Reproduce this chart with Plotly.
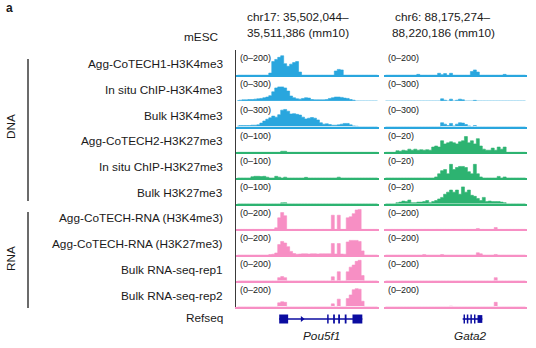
import plotly.graph_objects as go

W, H = 536, 348

BLUE = '#29a6de'
GREEN = '#2db371'
PINK = '#f78fc4'
NAVY = '#0b0ca0'
TXT = '#1a1a1a'
FONT = 'Liberation Sans, Arial, Helvetica, sans-serif'

track_labels = [
    "Agg-CoTECH1-H3K4me3", "In situ ChIP-H3K4me3", "Bulk H3K4me3",
    "Agg-CoTECH2-H3K27me3", "In situ ChIP-H3K27me3", "Bulk H3K27me3",
    "Agg-CoTECH-RNA (H3K4me3)", "Agg-CoTECH-RNA (H3K27me3)",
    "Bulk RNA-seq-rep1", "Bulk RNA-seq-rep2",
]
track_colors = [BLUE] * 3 + [GREEN] * 3 + [PINK] * 4
left_max = [200, 300, 300, 100, 100, 100, 200, 200, 200, 200]
right_max = [200, 300, 300, 20, 20, 20, 200, 200, 200, 200]

bins = list(range(48))

# ---- Pou5f1 locus (chr17) signal, 48 bins ----
L1 = [0, 0, 0, 0, 0, 0, 0, 0,  0, 0, 0, 20, 130, 150, 170, 185,
      110, 85, 105, 120, 130, 30, 0, 0,  0, 0, 0, 0, 0, 0, 0, 0,
      0, 40, 55, 50, 0, 0, 0, 0,  0, 0, 0, 0, 0, 0, 0, 0]
L2 = [5, 10, 15, 15, 20, 20, 25, 30,  35, 45, 55, 75, 130, 185, 200, 200,
      185, 140, 70, 45, 30, 25, 35, 45,  40, 20, 15, 15, 15, 15, 20, 35,
      45, 55, 55, 50, 40, 35, 20, 10,  0, 0, 0, 0, 0, 0, 0, 0]
L3 = [10, 15, 15, 15, 15, 20, 20, 25,  50, 80, 105, 125, 150, 135, 170, 235,
      245, 220, 180, 185, 175, 165, 135, 110,  120, 130, 120, 95, 55, 35, 40, 30,
      20, 20, 25, 35, 45, 45, 25, 10,  5, 0, 0, 0, 0, 0, 0, 0]
L4 = [0, 0, 0, 0, 0, 0, 0, 0,  0, 0, 0, 0, 0, 0, 0, 5,
      5, 0, 0, 0, 0, 0, 0, 0,  0, 0, 0, 0, 0, 0, 0, 0,
      0, 0, 0, 0, 0, 0, 0, 0,  0, 0, 0, 0, 0, 0, 0, 0]
L5 = [0, 0, 0, 0, 0, 6, 8, 8,  7, 8, 4, 0, 0, 8, 4, 0,
      4, 0, 0, 0, 0, 0, 0, 3,  0, 0, 0, 0, 0, 0, 0, 0,
      0, 0, 4, 0, 0, 0, 0, 0,  0, 0, 0, 0, 0, 0, 0, 0]
L6 = [0, 0, 0, 0, 0, 0, 0, 0,  0, 0, 0, 0, 0, 0, 0, 4,
      5, 0, 0, 0, 0, 0, 0, 0,  0, 0, 0, 0, 0, 0, 0, 0,
      0, 0, 0, 0, 0, 0, 0, 0,  0, 0, 0, 0, 0, 0, 0, 0]
L7 = [0, 0, 0, 0, 0, 0, 0, 0,  0, 0, 0, 0, 0, 15, 110, 160,
      130, 0, 0, 0, 0, 0, 0, 0,  0, 0, 0, 0, 0, 0, 0, 0,
      135, 0, 135, 0, 0, 110, 120, 150,  185, 190, 0, 0, 0, 0, 0, 0]
L8 = [0, 0, 0, 0, 0, 0, 0, 0,  0, 0, 0, 5, 8, 20, 100, 130,
      115, 80, 35, 15, 8, 10, 12, 12,  10, 12, 12, 10, 12, 12, 12, 12,
      110, 10, 110, 10, 8, 125, 140, 140,  140, 130, 40, 0, 0, 0, 0, 0]
L9 = [0, 0, 0, 0, 0, 0, 0, 0,  0, 0, 0, 0, 0, 0, 30, 40,
      30, 0, 0, 0, 0, 0, 0, 0,  0, 0, 0, 0, 0, 0, 0, 0,
      38, 0, 86, 0, 0, 85, 130, 150,  185, 195, 50, 0, 0, 0, 0, 0]
L10 = [0, 0, 0, 0, 0, 0, 0, 0,  0, 0, 0, 0, 0, 0, 35, 45,
       40, 0, 0, 0, 0, 0, 0, 0,  0, 0, 0, 0, 0, 0, 0, 0,
       25, 0, 70, 0, 0, 75, 110, 160,  170, 165, 50, 0, 0, 0, 0, 0]

# ---- Gata2 locus (chr6) signal, 48 bins ----
R1 = [0, 0, 0, 0, 0, 0, 0, 0,  0, 0, 0, 8, 0, 0, 0, 0,
      0, 0, 18, 5, 15, 0, 18, 0,  0, 0, 0, 0, 0, 35, 50, 30,
      0, 0, 0, 0, 0, 0, 0, 0,  8, 0, 0, 0, 0, 0, 0, 0]
R2 = [0, 0, 0, 0, 0, 0, 0, 0,  0, 0, 0, 0, 0, 0, 0, 0,
      0, 0, 0, 30, 10, 0, 25, 0,  10, 25, 15, 0, 0, 0, 8, 0,
      0, 0, 0, 0, 0, 0, 0, 0,  0, 0, 0, 0, 0, 0, 0, 0]
R3 = [0, 0, 0, 0, 0, 0, 0, 0,  0, 0, 0, 0, 0, 0, 0, 0,
      0, 0, 0, 55, 35, 15, 45, 10,  35, 55, 50, 30, 10, 0, 15, 0,
      0, 0, 0, 0, 0, 0, 0, 0,  0, 0, 0, 0, 0, 0, 0, 0]
R4 = [0, 0, 0, 0, 1.5, 1, 2, 1.5,  3, 2, 3, 2, 2.5, 2, 2.5, 2,
      5, 6, 5, 11, 8, 9, 10, 9,  8, 10, 11, 15, 9, 11, 8, 13,
      6, 3, 2, 2, 4, 2, 5, 3,  5, 0, 0, 0, 0, 0, 0, 0]
R5 = [0, 0, 0, 0, 0, 0, 0, 0,  0, 0, 0, 0, 0, 0, 0, 0,
      0, 1, 4, 7, 8, 4, 13, 8,  10, 11, 11, 10, 6, 4, 13, 4,
      1, 0, 0, 0, 0, 0, 1.5, 0,  1, 0, 0, 0, 0, 0, 0, 0]
R6 = [0, 0, 0, 0, 1, 1.5, 2.5, 2,  3.5, 1, 1, 1.5, 1.5, 2, 3, 1,
      2, 3, 4.5, 6, 9, 11, 13, 11,  13, 9, 16, 11, 13, 8, 7, 5,
      3, 6, 2, 2.5, 2, 2, 2, 1.5,  1, 0, 0, 0, 0, 0, 0, 0]
R7 = [0, 0, 0, 0, 0, 0, 0, 0,  0, 0, 0, 0, 0, 0, 0, 0,
      0, 0, 0, 0, 0, 0, 0, 0,  0, 0, 0, 0, 0, 0, 0, 8,
      0, 0, 0, 0, 0, 18, 0, 0,  0, 0, 0, 0, 0, 0, 0, 0]
R8 = [0, 0, 0, 0, 0, 0, 0, 0,  0, 0, 0, 0, 0, 5, 0, 0,
      0, 0, 0, 5, 0, 0, 0, 0,  0, 0, 0, 0, 0, 0, 0, 22,
      12, 0, 0, 0, 0, 6, 0, 0,  0, 0, 0, 0, 0, 0, 0, 0]
R9 = [0, 0, 0, 0, 0, 0, 0, 0,  0, 0, 0, 0, 0, 0, 0, 0,
      0, 0, 0, 0, 0, 0, 0, 0,  0, 0, 0, 0, 0, 0, 0, 0,
      0, 0, 0, 0, 0, 30, 0, 0,  0, 0, 0, 0, 0, 0, 0, 0]
R10 = [0, 0, 0, 0, 0, 0, 0, 0,  0, 0, 0, 0, 0, 0, 0, 0,
       0, 0, 0, 0, 0, 0, 3, 0,  0, 0, 0, 0, 0, 0, 0, 0,
       0, 0, 0, 0, 0, 40, 0, 0,  0, 0, 0, 0, 0, 0, 0, 0]

left_tracks = [L1, L2, L3, L4, L5, L6, L7, L8, L9, L10]
right_tracks = [R1, R2, R3, R4, R5, R6, R7, R8, R9, R10]

# ---- RefSeq gene models (bin units) ----
pou5f1_exon_start = [14.0, 30.1, 32.1, 33.8, 36.0, 38.6]
pou5f1_exon_end = [17.0, 30.6, 32.7, 34.4, 36.6, 41.9]
pou5f1_exon_half = [0.75, 0.75, 0.75, 0.75, 0.75, 0.75]
pou5f1_span = [14.0, 41.9]
pou5f1_arrow = [21.7]
gata2_exon_start = [26.2, 27.3, 28.5, 29.7, 30.9]
gata2_exon_end = [26.7, 27.8, 29.0, 30.2, 32.5]
gata2_exon_half = [0.75, 0.75, 0.75, 0.75, 0.65]
gata2_span = [25.9, 32.5]

# ---- layout geometry (pixels) ----
LX = (236, 379)
RX = (384, 527)
BASE0, STEP, TRACK_H, PEAK_H = 75.2, 25.7, 25.7, 21.0


def xd(a, b):
    return [a / W, b / W]


def yd(top, bottom):
    return [1 - bottom / H, 1 - top / H]


fig = go.Figure()
layout = {}
annotations = []
shapes = []

for i in range(10):
    base = BASE0 + STEP * i
    for p, (px, data, vmax) in enumerate([(LX, left_tracks[i], left_max[i]),
                                          (RX, right_tracks[i], right_max[i])]):
        n = 2 * i + p + 1
        xn = 'x' if n == 1 else f'x{n}'
        yn = 'y' if n == 1 else f'y{n}'
        fig.add_trace(go.Scatter(x=bins, y=data, mode='lines', line_shape='hvh',
                                 line=dict(width=0.6, color=track_colors[i]),
                                 fill='tozeroy', fillcolor=track_colors[i],
                                 xaxis=xn, yaxis=yn, hoverinfo='skip', showlegend=False))
        layout['xaxis' if n == 1 else f'xaxis{n}'] = dict(
            domain=xd(*px), range=[-0.5, 47.5], anchor=yn,
            showline=True, linecolor=track_colors[i], linewidth=1.5,
            showticklabels=False, ticks='', showgrid=False, zeroline=False)
        layout['yaxis' if n == 1 else f'yaxis{n}'] = dict(
            domain=yd(base - TRACK_H, base), range=[0, vmax * TRACK_H / PEAK_H],
            anchor=xn, showline=(p == 0), linecolor='#3a3a3a', linewidth=1.3,
            showticklabels=False, ticks='', showgrid=False, zeroline=False)
        annotations.append(dict(
            text=f"(0\u2013{vmax})", x=(px[0] + 1.5) / W, y=1 - (base - 16.8) / H,
            xref='paper', yref='paper', xanchor='left', yanchor='middle',
            showarrow=False, font=dict(size=9, color=TXT, family=FONT)))
    annotations.append(dict(
        text=track_labels[i], x=225 / W, y=1 - (base - 11) / H,
        xref='paper', yref='paper', xanchor='right', yanchor='middle',
        showarrow=False, font=dict(size=11.8, color=TXT, family=FONT)))

# RefSeq axes
for n, px in [(21, LX), (22, RX)]:
    layout[f'xaxis{n}'] = dict(domain=xd(*px), range=[-0.5, 47.5], anchor=f'y{n}',
                               visible=False)
    layout[f'yaxis{n}'] = dict(domain=yd(310, 328), range=[-1.5, 1.5], anchor=f'x{n}',
                               visible=False)


def gene(xref, yref, span, starts, ends, halves):
    shapes.append(dict(type='line', xref=xref, yref=yref, x0=span[0], x1=span[1],
                       y0=0, y1=0, line=dict(color=NAVY, width=1.6)))
    for s, e, h in zip(starts, ends, halves):
        shapes.append(dict(type='rect', xref=xref, yref=yref, x0=s, x1=e, y0=-h, y1=h,
                           fillcolor=NAVY, line=dict(width=0)))


gene('x21', 'y21', pou5f1_span, pou5f1_exon_start, pou5f1_exon_end, pou5f1_exon_half)
gene('x22', 'y22', gata2_span, gata2_exon_start, gata2_exon_end, gata2_exon_half)
fig.add_trace(go.Scatter(x=pou5f1_arrow, y=[0], mode='markers', xaxis='x21', yaxis='y21',
                         marker=dict(symbol='triangle-right', size=5, color=NAVY),
                         hoverinfo='skip', showlegend=False))

# DNA / RNA brackets
shapes.append(dict(type='line', xref='paper', yref='paper', x0=28 / W, x1=28 / W,
                   y0=1 - 59 / H, y1=1 - 201 / H, line=dict(color='#3a3a3a', width=1.5)))
shapes.append(dict(type='line', xref='paper', yref='paper', x0=28 / W, x1=28 / W,
                   y0=1 - 212 / H, y1=1 - 308 / H, line=dict(color='#3a3a3a', width=1.5)))


def text(t, x, y, xa='center', size=11.8, angle=0):
    annotations.append(dict(text=t, x=x / W, y=1 - y / H, xref='paper', yref='paper',
                            xanchor=xa, yanchor='middle', showarrow=False, textangle=angle,
                            font=dict(size=size, color=TXT, family=FONT)))


text("DNA", 11, 127, angle=-90)
text("RNA", 11, 259, angle=-90)
text("Refseq", 225, 318, xa='right')
text("mESC", 221, 37, xa='right')
text("chr17: 35,502,044\u2013", 298, 17)
text("35,511,386 (mm10)", 298, 33)
text("chr6: 88,175,274\u2013", 443, 17)
text("88,220,186 (mm10)", 443, 33)
text("<i>Pou5f1</i>", 321, 336)
text("<i>Gata2</i>", 470, 336)
text("<b>a</b>", 4, 8, xa='left', size=12)

fig.update_layout(width=W, height=H, margin=dict(l=0, r=0, t=0, b=0),
                  paper_bgcolor='white', plot_bgcolor='white',
                  annotations=annotations, shapes=shapes, **layout)

fig.write_html("out.html")
